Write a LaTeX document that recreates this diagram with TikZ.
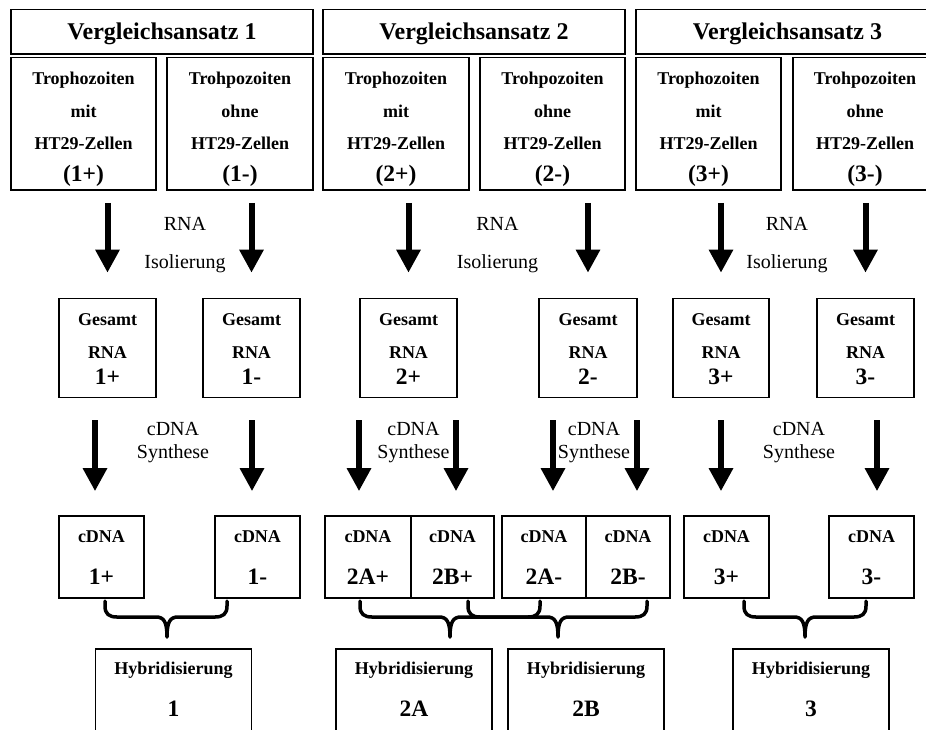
\documentclass[tikz,border=0pt]{standalone}
\usepackage{fontspec}
\setmainfont{Liberation Serif}
\usetikzlibrary{arrows.meta,calc}
\newcommand\curlybr[3]{\draw[bracestyle] let \p1=(#1),\p2=(#2),\p3=(#3) in
  (\p1) -- (\x1,\y1-5pt) .. controls (\x1,\y1-13pt) and (\x1+4pt,\y1-16pt) .. (\x1+12pt,\y1-16pt)
  -- (\x3-11pt,\y1-16pt) .. controls (\x3-3pt,\y1-16pt) and (\x3,\y1-21pt) .. (\p3)
  .. controls (\x3,\y1-21pt) and (\x3+3pt,\y1-16pt) .. (\x3+11pt,\y1-16pt)
  -- (\x2-12pt,\y2-16pt) .. controls (\x2-4pt,\y2-16pt) and (\x2,\y2-13pt) .. (\x2,\y2-5pt) -- (\p2);}
\begin{document}
\begin{tikzpicture}[x=1pt,y=-1pt,
  box/.style={draw, line width=1.6pt, inner sep=0pt},
  title/.style={inner sep=0pt, text depth=0pt, text height=16.3pt, font=\bfseries\fontsize{24pt}{26pt}\selectfont},
  small/.style={inner sep=0pt, text depth=0pt, text height=12.2pt, font=\bfseries\fontsize{18pt}{20pt}\selectfont},
  big/.style={inner sep=0pt, text depth=0pt, text height=16pt, font=\bfseries\fontsize{23.5pt}{26pt}\selectfont},
  lbl/.style={inner sep=0pt, text depth=0pt, text height=13.6pt, font=\fontsize{20pt}{22pt}\selectfont},
  bigarrow/.style={line width=6pt, -{Triangle[width=23pt,length=23pt]}},
  bracestyle/.style={line width=3.5pt, line cap=round, line join=round}]
\fill[white] (0,0) rectangle (926,729);
\useasboundingbox (0,0) rectangle (926,729);
\clip (0,0) rectangle (926,729);

% header boxes
\node[box, title, minimum width=302pt, minimum height=44.5pt] (va1) at (162,31.75) {Vergleichsansatz 1};
\node[box, title, minimum width=302pt, minimum height=44.5pt] (va2) at (474,31.75) {Vergleichsansatz 2};
\node[box, title, minimum width=303pt, minimum height=44.5pt] (va3) at (787.5,31.75) {Vergleichsansatz 3};

% top sub boxes
\node[box, minimum width=145pt, minimum height=132.5pt] (t1p) at (83.5,123.75) {};
\node[box, minimum width=146pt, minimum height=132.5pt] (t1m) at (240,123.75) {};
\node[box, minimum width=146pt, minimum height=132.5pt] (t2p) at (396,123.75) {};
\node[box, minimum width=145pt, minimum height=132.5pt] (t2m) at (552.5,123.75) {};
\node[box, minimum width=145pt, minimum height=132.5pt] (t3p) at (708.5,123.75) {};
\node[box, minimum width=144pt, minimum height=132.5pt] (t3m) at (865,123.75) {};

\foreach \n/\x/\w/\k in {1p/83.5/mit/(1+), 2p/396/mit/(2+), 3p/708.5/mit/(3+)}{
  \node[small] (tra\n) at (\x,78) {Trophozoiten};
  \node[small] (trb\n) at (\x,111.7) {\w};
  \node[small] (trc\n) at (\x,143) {HT29-Zellen};
  \node[big] (trd\n) at (\x,173.7) {\k};
}
\foreach \n/\x/\w/\k in {1m/240/ohne/(1-), 2m/552.5/ohne/(2-), 3m/865/ohne/(3-)}{
  \node[small] (tra\n) at (\x,78) {Trohpozoiten};
  \node[small] (trb\n) at (\x,111.7) {\w};
  \node[small] (trc\n) at (\x,143) {HT29-Zellen};
  \node[big] (trd\n) at (\x,173.7) {\k};
}

% Gesamt RNA boxes
\foreach \n/\x/\w/\k in {1p/107.5/97/1+, 1m/251.5/97/1-, 2p/408.5/97/2+, 2m/588/98/2-, 3p/721/96/3+, 3m/865.5/97/3-}{
  \node[box, minimum width=\w pt, minimum height=99pt] (g\n) at (\x,348) {};
  \node[small] (ga\n) at (\x,319.5) {Gesamt};
  \node[small] (gb\n) at (\x,352) {RNA};
  \node[big] (gc\n) at (\x,376.7) {\k};
}

% cDNA boxes
\foreach \n/\x/\w/\k in {1p/101.5/85/1+, 1m/257.5/85/1-, 2ap/368/86/2A+, 2bp/452.5/83/2B+, 2am/544/84/2A-, 2bm/628/84/2B-, 3p/726.5/85/3+, 3m/871.5/85/3-}{
  \node[box, minimum width=\w pt, minimum height=82pt] (c\n) at (\x,557) {};
  \node[small] (ca\n) at (\x,536.7) {cDNA};
  \node[big] (cb\n) at (\x,576) {\k};
}

% Hybridisierung boxes
\foreach \n/\x/\k in {1/173.5/1, 2a/414/2A, 2b/586/2B, 3/811/3}{
  \node[box, minimum width=156pt, minimum height=131pt] (h\n) at (\x,714.5) {};
  \node[small] (ha\n) at (\x,668.7) {Hybridisierung};
  \node[big] (hb\n) at (\x,708) {\k};
}

% RNA Isolierung labels
\foreach \n/\x in {1/185, 2/497.5, 3/787}{
  \node[lbl] (ra\n) at (\x,223.3) {RNA};
  \node[lbl] (rb\n) at (\x,262) {Isolierung};
}
% cDNA Synthese labels
\foreach \n/\x in {1/173, 2/413.5, 3/594, 4/799}{
  \node[lbl] (sa\n) at (\x,428.3) {cDNA};
  \node[lbl] (sb\n) at (\x,451.7) {Synthese};
}

% arrows: top boxes -> Gesamt RNA
\foreach \n in {1p,1m,2p,2m,3p,3m}{
  \draw[bigarrow, shorten <=12pt, shorten >=25pt] (g\n.north |- t\n.south) -- (g\n.north);
}

% arrows: Gesamt RNA -> cDNA
\foreach \g/\c/\x in {1p/1p/95, 1m/1m/252, 2p/2ap/359, 2p/2bp/456, 2m/2am/553, 2m/2bm/637, 3p/3p/721, 3m/3m/877}{
  \coordinate (s\c) at (\x,420);
  \draw[bigarrow, shorten >=24pt] (s\c) -- (s\c |- c\c.north);
}

% braces
\coordinate (b1l) at (105,601); \coordinate (b1r) at (227,601); \coordinate (b1t) at (167,637);
\coordinate (b2l) at (360,601); \coordinate (b2r) at (540,601); \coordinate (b2t) at (450,637);
\coordinate (b3l) at (468,601); \coordinate (b3r) at (647,601); \coordinate (b3t) at (558,637);
\coordinate (b4l) at (744,601); \coordinate (b4r) at (866,601); \coordinate (b4t) at (805,637);
\curlybr{b1l}{b1r}{b1t}
\curlybr{b2l}{b2r}{b2t}
\curlybr{b3l}{b3r}{b3t}
\curlybr{b4l}{b4r}{b4t}
\end{tikzpicture}
\end{document}
